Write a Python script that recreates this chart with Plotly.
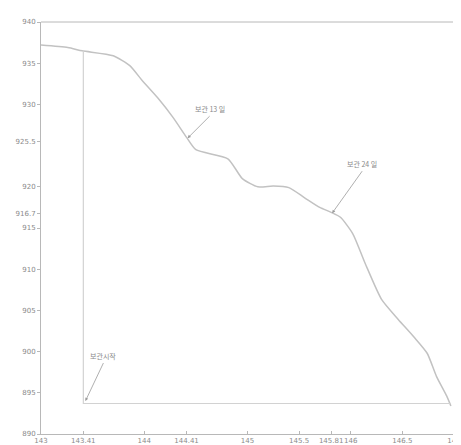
import plotly.graph_objects as go

# Curve data
x_vals = [143.0, 143.26, 143.40, 143.70, 143.86, 143.98, 144.13, 144.28, 144.41, 144.50,
          144.81, 144.95, 145.10, 145.25, 145.40, 145.55, 145.70, 145.81, 145.90,
          146.02, 146.14, 146.30, 146.46, 146.61, 146.74, 146.83, 146.93, 146.97]
y_vals = [937.2, 936.9, 936.5, 935.9, 934.7, 932.9, 930.8, 928.4, 926.0, 924.5,
          923.4, 921.0, 920.0, 920.1, 919.9, 918.7, 917.5, 916.9, 916.3,
          914.3, 910.7, 906.3, 903.9, 901.8, 899.8, 897.0, 894.6, 893.4]

# Reference lines
ref_x = 143.41
ref_y = 893.7
ref_x_end = 146.97
ref_y_top = 936.6

x_ticks = [143, 143.41, 144, 144.41, 145, 145.5, 145.81, 146, 146.5, 147]
x_tick_labels = ["143", "143.41", "144", "144.41", "145", "145.5", "145.81", "146", "146.5", "147"]
y_ticks = [890, 895, 900, 905, 910, 915, 916.7, 920, 925.5, 930, 935, 940]
y_tick_labels = ["890", "895", "900", "905", "910", "915", "916.7", "920", "925.5", "930", "935", "940"]

ann_text = ["보관시작", "보관 13 일", "보관 24 일"]
ann_x = [143.43, 144.42, 145.82]
ann_y = [894.0, 925.9, 916.8]
ann_ax = [18, 22, 30]
ann_ay = [-38, -22, -42]

line_col = "#c4c4c4"
text_col = "#8a8a8a"

fig = go.Figure()
fig.add_trace(go.Scatter(x=x_vals, y=y_vals, mode="lines",
                         line=dict(color="#c2c2c2", width=1.5, shape="spline", smoothing=0.6),
                         showlegend=False, hoverinfo="skip"))
fig.add_trace(go.Scatter(x=[ref_x, ref_x, ref_x_end], y=[ref_y_top, ref_y, ref_y],
                         mode="lines", line=dict(color="#d2d2d2", width=1.2),
                         showlegend=False, hoverinfo="skip"))

for t, x, y, ax, ay in zip(ann_text, ann_x, ann_y, ann_ax, ann_ay):
    fig.add_annotation(x=x, y=y, text=t, showarrow=True, ax=ax, ay=ay,
                       arrowhead=2, arrowsize=0.8, arrowwidth=0.8, arrowcolor="#9a9a9a",
                       font=dict(size=7, color=text_col, family="Noto Sans CJK KR"),
                       xanchor="center", yanchor="bottom")

# top border and faint right border
fig.add_shape(type="line", xref="paper", yref="paper", x0=0, x1=1, y0=1, y1=1,
              line=dict(color="#b8b8b8", width=1))
fig.add_shape(type="line", xref="paper", yref="paper", x0=1, x1=1, y0=0, y1=1,
              line=dict(color="#ececec", width=1))

fig.update_layout(
    width=461, height=445,
    margin=dict(l=25, r=8, t=14, b=17),
    paper_bgcolor="white", plot_bgcolor="white",
    font=dict(family="DejaVu Sans", size=7, color=text_col),
    xaxis=dict(range=[143, 147], tickmode="array", tickvals=x_ticks, ticktext=x_tick_labels,
               showgrid=False, zeroline=False, showline=True, linecolor="#b8b8b8",
               ticks="inside", ticklen=3, tickcolor="#b8b8b8", tickangle=0,
               tickfont=dict(size=7, color=text_col)),
    yaxis=dict(range=[890, 940], tickmode="array", tickvals=y_ticks, ticktext=y_tick_labels,
               showgrid=False, zeroline=False, showline=True, linecolor="#b8b8b8",
               ticks="outside", ticklen=3, tickcolor="#b8b8b8",
               tickfont=dict(size=7, color=text_col)),
)

fig.write_html("out.html")
